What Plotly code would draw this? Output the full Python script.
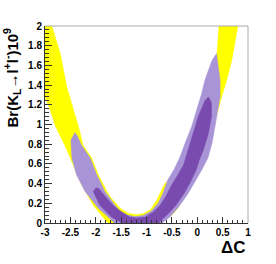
import plotly.graph_objects as go

# ---- data (x = ΔC, y = Br(K_L -> l+l-) x 1e9) ----
yellow_x = [-3.20, -3.08, -3.00, -2.90, -2.80, -2.61, -2.44, -2.28, -2.05, -1.78, -1.68,
            -0.81, -0.81, -0.67, -0.50, -0.38, -0.24, -0.04, 0.11, 0.25, 0.35, 0.41, 0.48,
            0.58, 0.68, 0.80, 0.88,
            0.45, 0.43, 0.39, 0.31, 0.19, 0.05, -0.10, -0.24, -0.34, -0.64, -0.70, -0.80,
            -0.93, -1.07, -1.21, -1.36, -1.52, -1.72, -1.78, -1.95, -2.08, -2.25, -2.32,
            -2.44, -2.57, -2.70, -2.88, -2.96]
yellow_y = [2.16, 1.60, 1.28, 1.15, 0.99, 0.79, 0.59, 0.39, 0.18, 0.01, -0.03,
            -0.03, -0.01, 0.02, 0.08, 0.15, 0.28, 0.46, 0.64, 0.84, 1.03, 1.15, 1.28,
            1.45, 1.65, 2.00, 2.16,
            2.16, 2.00, 1.72, 1.50, 1.25, 1.00, 0.76, 0.61, 0.52, 0.40, 0.34, 0.23,
            0.13, 0.095, 0.085, 0.10, 0.15, 0.27, 0.32, 0.49, 0.66, 0.79, 0.94,
            1.15, 1.38, 1.72, 2.00, 2.16]

light_x = [-2.41, -2.49, -2.47, -2.38, -2.21, -1.95, -1.69, -1.58, -0.73, -0.69, -0.54,
           -0.37, -0.18, -0.02, 0.09, 0.21, 0.29, 0.35, 0.41, 0.45, 0.45, 0.41, 0.38,
           0.29, 0.25, 0.15, 0.09, -0.01, -0.11, -0.24, -0.34, -0.46, -0.58, -0.67,
           -0.77, -0.91, -1.07, -1.23, -1.38, -1.52, -1.62, -1.82, -1.98, -2.11, -2.28,
           -2.37]
light_y = [0.92, 0.84, 0.66, 0.49, 0.32, 0.15, 0.03, -0.03, -0.03, 0.00, 0.06,
           0.16, 0.30, 0.44, 0.54, 0.66, 0.81, 0.98, 1.15, 1.28, 1.45, 1.59, 1.72,
           1.65, 1.59, 1.45, 1.32, 1.15, 0.98, 0.81, 0.67, 0.54, 0.44, 0.31,
           0.20, 0.12, 0.075, 0.065, 0.08, 0.12, 0.18, 0.32, 0.49, 0.66, 0.79,
           0.89]

dark_x = [-1.99, -2.05, -1.92, -1.69, -1.52, -1.44, -0.79, -0.73, -0.58, -0.42, -0.26,
          -0.14, -0.02, 0.04, 0.12, 0.22, 0.28, 0.28, 0.22,
          0.15, 0.02, -0.08, -0.18, -0.27, -0.38, -0.50, -0.62, -0.73, -0.87, -1.03,
          -1.19, -1.33, -1.48, -1.64, -1.78, -1.94]
dark_y = [0.36, 0.32, 0.18, 0.06, 0.01, -0.03, -0.03, 0.02, 0.09, 0.18, 0.30,
          0.41, 0.54, 0.64, 0.74, 0.91, 1.08, 1.22, 1.28,
          1.24, 1.08, 0.91, 0.74, 0.59, 0.49, 0.39, 0.27, 0.18, 0.11, 0.06,
          0.05, 0.06, 0.11, 0.17, 0.25, 0.35]

x_tick_vals = [-3, -2.5, -2, -1.5, -1, -0.5, 0, 0.5, 1]
x_tick_text = ["-3", "-2.5", "-2", "-1.5", "-1", "-0.5", "0", "0.5", "1"]
y_tick_vals = [0, 0.2, 0.4, 0.6, 0.8, 1, 1.2, 1.4, 1.6, 1.8, 2]
y_tick_text = ["0", "0.2", "0.4", "0.6", "0.8", "1", "1.2", "1.4", "1.6", "1.8", "2"]

YELLOW = "#ffff00"
LIGHT = "#a894d6"
DARK = "#7a4bae"
FONT = "Liberation Sans"

fig = go.Figure()
for xs, ys, col in [(yellow_x, yellow_y, YELLOW), (light_x, light_y, LIGHT), (dark_x, dark_y, DARK)]:
    fig.add_trace(go.Scatter(x=xs, y=ys, mode="lines", fill="toself", fillcolor=col,
                             line=dict(color=col, width=0.5), hoverinfo="skip",
                             showlegend=False))

axis_common = dict(showgrid=False, zeroline=False, showline=True, linecolor="#333",
                   linewidth=1, ticks="inside", tickcolor="#333", tickwidth=1,
                   automargin=False,
                   tickfont=dict(family=FONT, size=10, color="black", weight="bold"))

fig.update_xaxes(range=[-3, 1], tickvals=x_tick_vals, ticktext=x_tick_text, ticklen=6,
                 minor=dict(dtick=0.1, tick0=0, ticklen=3, ticks="inside", tickcolor="#333"),
                 **axis_common)
fig.update_yaxes(range=[0, 2], tickvals=y_tick_vals, ticktext=y_tick_text, ticklen=7,
                 minor=dict(dtick=0.04, tick0=0, ticklen=4, ticks="inside", tickcolor="#333"),
                 **axis_common)

# light grey frame on top and right (ROOT frame)
fig.add_shape(type="line", xref="paper", yref="paper", x0=0, x1=1, y0=1, y1=1,
              line=dict(color="#aaaaaa", width=1), layer="above")
fig.add_shape(type="line", xref="paper", yref="paper", x0=1, x1=1, y0=0, y1=1,
              line=dict(color="#aaaaaa", width=1), layer="above")

fig.add_annotation(text="<b>Br(K<sub>L</sub>→l<sup>+</sup>l<sup>-</sup>)10<sup>9</sup></b>",
                   xref="paper", yref="paper", x=-0.165, y=1.0, xanchor="center",
                   yanchor="top", textangle=-90, showarrow=False,
                   font=dict(family=FONT, size=15, color="black"))
fig.add_annotation(text="<b>ΔC</b>", xref="paper", yref="paper", x=1.0, y=-0.122,
                   xanchor="right", yanchor="middle", showarrow=False,
                   font=dict(family=FONT, size=17, color="black"))

fig.update_layout(width=276, height=264, margin=dict(l=45, r=28, t=26, b=41),
                  plot_bgcolor="white", paper_bgcolor="white")
fig.write_html("out.html", config={"displayModeBar": False, "staticPlot": True},
               post_script="document.body.style.margin='0';document.body.style.padding='0';"
                           "document.body.style.overflow='hidden';")
